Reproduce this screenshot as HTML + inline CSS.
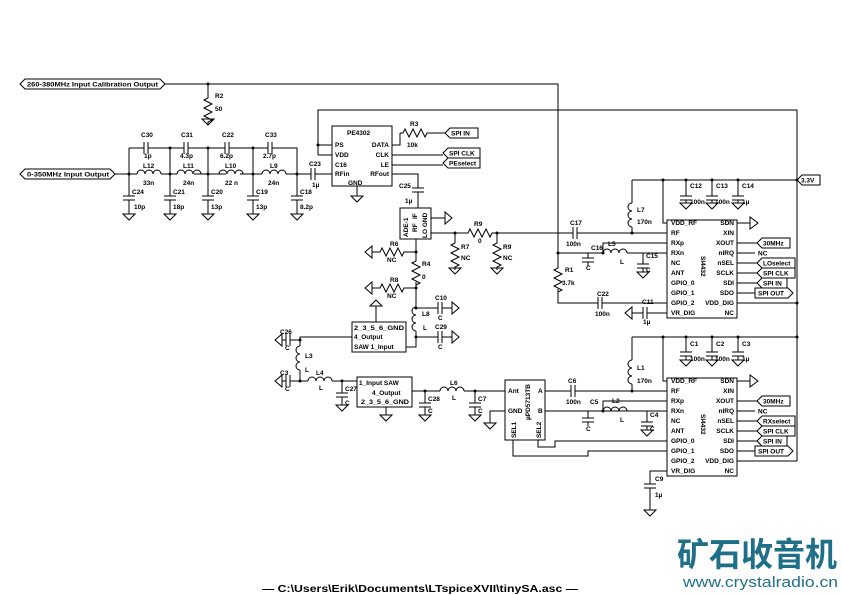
<!DOCTYPE html>
<html><head><meta charset="utf-8"><style>
html,body{margin:0;padding:0;background:#fff}
svg{display:block}
text{font-family:"Liberation Sans",sans-serif;font-weight:bold;font-size:6.5px;fill:#000}
.w{stroke:#000;stroke-width:1;fill:none}
</style></head><body>
<svg width="842" height="595" viewBox="0 0 842 595" xmlns="http://www.w3.org/2000/svg">
<defs>
<path id="g" class="w" d="M-6,0H6L0,6Z"/>
<path id="gu" class="w" d="M-6,0H6L0,-6Z"/>
<path id="gl" class="w" d="M0,-6V6L-7,0Z"/>
<path id="gr" class="w" d="M0,-6V6L7,0Z"/>
<path id="rh" class="w" d="M0,0h3l2,-4l4,8l4,-8l4,8l4,-8l4,8l2,-4h3"/>
<path id="rv" class="w" d="M0,0v3l-4,2l8,4l-8,4l8,4l-8,4l8,4l-4,2v3"/>
<path id="lh" class="w" d="M0,0a4,4 0 0 1 8,0a4,4 0 0 1 8,0a4,4 0 0 1 8,0"/>
<path id="lv" class="w" d="M0,0a4,4 0 0 0 0,8a4,4 0 0 0 0,8a4,4 0 0 0 0,8"/>
<path id="cv" class="w" d="M-6,0h12M-6,4h12"/>
<path id="ch" class="w" d="M0,-6v12M4,-6v12"/>
</defs>
<g class="w">
<path d="M165,84H558V253"/>
<path d="M208,84V95"/>
<path d="M318,155V110H797V461"/>
<path d="M115,174H137M161,174H165M194,174H202M226,174H219M240,174H262M286,174H311M315,174H332"/>
<path d="M163,174H177M201,174H202"/>
<path d="M129,148H144M148,148H184M188,148H225M229,148H268M272,148H297V174"/>
<path d="M129,148V196M170,148V196M208,148V196M253,148V196M297,174V196"/>
<path d="M129,200V214M170,200V214M208,200V214M253,200V214M297,200V214"/>
<path d="M318,145H332M318,155H332"/>
<path d="M392,145H400V133M428,133H445M392,155H443M392,165H443"/>
<path d="M392,174H418V188M418,192V208"/>
<path d="M357,186V196"/>
<rect x="400" y="208" width="31" height="31"/>
<path d="M431,218H445"/>
<path d="M431,233H465M493,233H573M577,233H667"/>
<path d="M455,233V240M497,233V240"/>
<path d="M416,239V258M416,282V307M416,331V347H406"/>
<path d="M405,252H416M377,252H372M405,288H416M377,288H372"/>
<path d="M416,308H438M442,308H452M416,337H438M442,337H452"/>
<rect x="352" y="322" width="54" height="30"/>
<path d="M376,322V306"/>
<path d="M352,337H300V346M300,370V381M300,340H290M286,340H282M300,381H290M286,381H282"/>
<path d="M300,381H308M332,381H357M342,381V393M342,397V405"/>
<rect x="357" y="377" width="55" height="30"/>
<path d="M386,407V415M412,391H440M464,391H505M425,391V403M425,407V415M475,391V403M475,407V415"/>
<rect x="505" y="380" width="40" height="60"/>
<path d="M505,411H490V423M545,391H571M575,391H667M545,411H667"/>
<path d="M513,440V456H588V451H667M538,440V447H555V441H667"/>
<rect x="667" y="220" width="70" height="98"/>
<path d="M632,180H797M663,180V223H667M632,180V203M632,227V233"/>
<path d="M686,180V196M712,180V196M738,180V196M686,200V203M712,200V203M738,200V203"/>
<path d="M603,253V243H667M558,253H603M627,253H667M588,253V258M588,262V266M643,253V264M643,268V272"/>
<path d="M558,253V265M558,289V303H598M602,303H667M667,313H647M643,313H632"/>
<path d="M737,223H750M737,243H757M737,253H755M737,263H757M737,273H757M737,283H757M737,293H755M737,303H797"/>
<rect x="667" y="378" width="70" height="98"/>
<path d="M632,337H797M663,337V381H667M632,337V360M632,384V391"/>
<path d="M686,337V352M712,337V352M738,337V352M686,356V360M712,356V360M738,356V360"/>
<path d="M603,411V401H667M627,411H667M588,411V418M588,422V426M647,411V422M647,426V430"/>
<path d="M667,471H650V484M650,488V510"/>
<path d="M737,381H750M737,401H757M737,411H755M737,421H757M737,431H757M737,441H757M737,451H755M737,461H797"/>
<rect x="332" y="126" width="60" height="60"/>
<path d="M20,84l5,-5h135l5,5l-5,5h-135z"/>
<path d="M20,174l5,-5h85l5,5l-5,5h-85z"/>
<path d="M797,180l5,-5h18v10h-18z"/>
<path d="M445,133l5,-5h28v10h-28z"/>
<path d="M443,153l5,-5h32v10h-32z"/>
<path d="M443,163l5,-5h32v10h-32z"/>
<path d="M757,243l5,-5h28v10h-28z"/><path d="M757,263l5,-5h33v10h-33z"/><path d="M757,273l5,-5h33v10h-33z"/><path d="M757,283l5,-5h25v10h-25z"/><path d="M755,293v-5h33l5,5l-5,5h-33z"/>
<path d="M757,401l5,-5h28v10h-28z"/><path d="M757,421l5,-5h33v10h-33z"/><path d="M757,431l5,-5h33v10h-33z"/><path d="M757,441l5,-5h25v10h-25z"/><path d="M755,451v-5h33l5,5l-5,5h-33z"/>
</g>
<use href="#rv" x="208" y="95"/><use href="#g" x="208" y="119"/>
<use href="#ch" x="144" y="148"/><use href="#ch" x="184" y="148"/><use href="#ch" x="225" y="148"/><use href="#ch" x="268" y="148"/>
<use href="#lh" x="137" y="174"/><use href="#lh" x="177" y="174"/><use href="#lh" x="219" y="174"/><use href="#lh" x="262" y="174"/>
<g class="w"><path d="M176,174h1M201,174h18"/></g>
<use href="#cv" x="129" y="196"/><use href="#cv" x="170" y="196"/><use href="#cv" x="208" y="196"/><use href="#cv" x="253" y="196"/><use href="#cv" x="297" y="196"/>
<use href="#g" x="129" y="214"/><use href="#g" x="170" y="214"/><use href="#g" x="208" y="214"/><use href="#g" x="253" y="214"/><use href="#g" x="297" y="214"/>
<use href="#ch" x="311" y="174"/>
<use href="#g" x="357" y="196"/>
<use href="#rh" x="400" y="133"/>
<use href="#cv" x="418" y="188"/>
<use href="#gr" x="445" y="218"/>
<use href="#rh" x="465" y="233"/>
<use href="#rv" x="455" y="240"/><use href="#g" x="455" y="268"/>
<use href="#rv" x="497" y="240"/><use href="#g" x="497" y="268"/>
<use href="#rh" x="377" y="252"/><use href="#gl" x="372" y="252"/>
<use href="#rv" x="416" y="258"/>
<use href="#rh" x="377" y="288"/><use href="#gl" x="372" y="288"/>
<use href="#lv" x="416" y="307"/>
<use href="#ch" x="438" y="308"/><use href="#gr" x="452" y="308"/>
<use href="#ch" x="438" y="337"/><use href="#gr" x="452" y="337"/>
<use href="#gu" x="376" y="306"/>
<use href="#lv" x="300" y="346"/>
<use href="#ch" x="286" y="340"/><use href="#gl" x="282" y="340"/>
<use href="#ch" x="286" y="381"/><use href="#gl" x="282" y="381"/>
<use href="#lh" x="308" y="381"/>
<use href="#cv" x="342" y="393"/><use href="#g" x="342" y="405"/>
<use href="#g" x="386" y="415"/>
<use href="#cv" x="425" y="403"/><use href="#g" x="425" y="415"/>
<use href="#lh" x="440" y="391"/>
<use href="#cv" x="475" y="403"/><use href="#g" x="475" y="415"/>
<use href="#g" x="490" y="423"/>
<use href="#lv" x="632" y="203"/>
<use href="#cv" x="686" y="196"/><use href="#cv" x="712" y="196"/><use href="#cv" x="738" y="196"/>
<use href="#g" x="686" y="203"/><use href="#g" x="712" y="203"/><use href="#g" x="738" y="203"/>
<use href="#ch" x="573" y="233"/>
<use href="#cv" x="588" y="258"/>
<use href="#lh" x="603" y="253"/>
<use href="#cv" x="643" y="264"/><use href="#g" x="643" y="272"/>
<use href="#rv" x="558" y="265"/>
<use href="#ch" x="598" y="303"/>
<use href="#ch" x="643" y="313"/><use href="#gl" x="632" y="313"/>
<path class="w" d="M750,217v12l8,-6z"/>
<use href="#lv" x="632" y="360"/>
<use href="#cv" x="686" y="352"/><use href="#cv" x="712" y="352"/><use href="#cv" x="738" y="352"/>
<use href="#g" x="686" y="360"/><use href="#g" x="712" y="360"/><use href="#g" x="738" y="360"/>
<use href="#ch" x="571" y="391"/>
<use href="#cv" x="588" y="418"/>
<use href="#lh" x="603" y="411"/>
<use href="#cv" x="647" y="422"/><use href="#g" x="647" y="430"/>
<use href="#cv" x="650" y="484"/><use href="#g" x="650" y="510"/>
<path class="w" d="M750,375v12l8,-6z"/>
<g fill="#000">
<circle cx="208" cy="84" r="1.5"/><circle cx="129" cy="174" r="1.5"/><circle cx="170" cy="174" r="1.5"/><circle cx="208" cy="174" r="1.5"/><circle cx="253" cy="174" r="1.5"/><circle cx="297" cy="174" r="1.5"/>
<circle cx="170" cy="148" r="1.5"/><circle cx="208" cy="148" r="1.5"/><circle cx="253" cy="148" r="1.5"/><circle cx="318" cy="145" r="1.5"/>
<circle cx="455" cy="233" r="1.5"/><circle cx="497" cy="233" r="1.5"/><circle cx="632" cy="233" r="1.5"/><circle cx="558" cy="253" r="1.5"/><circle cx="603" cy="253" r="1.5"/>
<circle cx="416" cy="252" r="1.5"/><circle cx="416" cy="288" r="1.5"/><circle cx="416" cy="308" r="1.5"/><circle cx="416" cy="337" r="1.5"/>
<circle cx="300" cy="340" r="1.5"/><circle cx="300" cy="381" r="1.5"/><circle cx="342" cy="381" r="1.5"/><circle cx="425" cy="391" r="1.5"/><circle cx="475" cy="391" r="1.5"/>
<circle cx="663" cy="180" r="1.5"/><circle cx="686" cy="180" r="1.5"/><circle cx="712" cy="180" r="1.5"/><circle cx="738" cy="180" r="1.5"/><circle cx="797" cy="180" r="1.5"/><circle cx="797" cy="303" r="1.5"/>
<circle cx="663" cy="337" r="1.5"/><circle cx="686" cy="337" r="1.5"/><circle cx="712" cy="337" r="1.5"/><circle cx="738" cy="337" r="1.5"/><circle cx="797" cy="337" r="1.5"/><circle cx="632" cy="391" r="1.5"/><circle cx="603" cy="411" r="1.5"/>
</g>
<text x="27" y="86.5" textLength="131" lengthAdjust="spacingAndGlyphs">260-380MHz Input Calibration Output</text>
<text x="27" y="176.5" textLength="82" lengthAdjust="spacingAndGlyphs">0-350MHz Input Output</text>
<text x="215" y="98">R2</text><text x="215" y="111">50</text>
<text x="141" y="137">C30</text><text x="144" y="158">1p</text>
<text x="181" y="137">C31</text><text x="180" y="158">4.3p</text>
<text x="222" y="137">C22</text><text x="220" y="158">6.2p</text>
<text x="265" y="137">C33</text><text x="263" y="158">2.7p</text>
<text x="143" y="168">L12</text><text x="143" y="185">33n</text>
<text x="183" y="168">L11</text><text x="183" y="185">24n</text>
<text x="225" y="168">L10</text><text x="225" y="185">22 n</text>
<text x="270" y="168">L9</text><text x="268" y="185">24n</text>
<text x="132" y="194">C24</text><text x="134" y="209">10p</text>
<text x="173" y="194">C21</text><text x="173" y="209">18p</text>
<text x="211" y="194">C20</text><text x="211" y="209">13p</text>
<text x="256" y="194">C19</text><text x="256" y="209">13p</text>
<text x="300" y="194">C18</text><text x="300" y="209">8.2p</text>
<text x="309" y="166">C23</text><text x="312" y="187">1µ</text>
<text x="347" y="135">PE4302</text>
<text x="335" y="147">PS</text><text x="335" y="157">VDD</text><text x="335" y="167">C16</text><text x="335" y="176">RFin</text><text x="348" y="185">GND</text>
<text x="389" y="147" text-anchor="end">DATA</text><text x="389" y="157" text-anchor="end">CLK</text><text x="389" y="167" text-anchor="end">LE</text><text x="389" y="176" text-anchor="end">RFout</text>
<text x="410" y="126">R3</text><text x="407" y="147">10k</text>
<text x="451" y="135.5">SPI IN</text><text x="449" y="155.5">SPI CLK</text><text x="449" y="165.5">PEselect</text>
<text x="399" y="188">C25</text><text x="405" y="203">1µ</text>
<text transform="translate(408,237) rotate(-90)">ADE-1</text>
<text transform="translate(417,232) rotate(-90)">RF</text><text transform="translate(417,219) rotate(-90)">IF</text>
<text transform="translate(427,238) rotate(-90)">LO GND</text>
<text x="474" y="226">R9</text><text x="478" y="243">0</text>
<text x="461" y="249">R7</text><text x="461" y="260">NC</text>
<text x="503" y="249">R9</text><text x="503" y="260">NC</text>
<text x="390" y="246">R6</text><text x="387" y="262">NC</text>
<text x="422" y="266">R4</text><text x="422" y="279">0</text>
<text x="390" y="282">R8</text><text x="387" y="298">NC</text>
<text x="422" y="316">L8</text><text x="423" y="330">L</text>
<text x="435" y="300">C10</text><text x="438" y="320">C</text>
<text x="435" y="329">C29</text><text x="438" y="349">C</text>
<text x="354" y="330" textLength="50" lengthAdjust="spacingAndGlyphs">2_3_5_6_GND</text>
<text x="354" y="339">4_Output</text><text x="354" y="349">SAW  1_Input</text>
<text x="280" y="334">C26</text><text x="285" y="350">C</text>
<text x="305" y="358">L3</text><text x="305" y="372">L</text>
<text x="280" y="375">C3</text><text x="285" y="391">C</text>
<text x="316" y="375">L4</text><text x="319" y="390">L</text>
<text x="345" y="391">C27</text><text x="345" y="405">C</text>
<text x="359" y="385">1_Input  SAW</text><text x="372" y="395">4_Output</text>
<text x="361" y="404" textLength="48" lengthAdjust="spacingAndGlyphs">2_3_5_6_GND</text>
<text x="428" y="401">C28</text><text x="428" y="413">C</text>
<text x="450" y="385">L6</text><text x="452" y="400">L</text>
<text x="478" y="401">C7</text><text x="478" y="413">C</text>
<text x="508" y="393">Ant</text><text x="538" y="393">A</text><text x="508" y="413">GND</text><text x="538" y="413">B</text>
<text transform="translate(530,420) rotate(-90)">µPD5713TB</text>
<text transform="translate(516,438) rotate(-90)">SEL1</text><text transform="translate(541,438) rotate(-90)">SEL2</text>
<text x="637" y="212">L7</text><text x="637" y="224">170n</text>
<text x="690" y="188">C12</text><text x="716" y="188">C13</text><text x="742" y="188">C14</text>
<text x="690" y="204">100n</text><text x="715" y="204">100n</text><text x="742" y="204">1µ</text>
<text x="570" y="225">C17</text><text x="566" y="246">100n</text>
<text x="591" y="250">C16</text><text x="586" y="270">C</text>
<text x="608" y="246">L5</text><text x="620" y="264">L</text>
<text x="646" y="258">C15</text><text x="646" y="272">C</text>
<text x="565" y="272">R1</text><text x="562" y="285">3.7k</text>
<text x="597" y="296">C22</text><text x="595" y="316">100n</text>
<text x="642" y="304">C11</text><text x="643" y="324">1µ</text>
<g>
<text x="671" y="225">VDD_RF</text><text x="671" y="235">RF</text><text x="671" y="245">RXp</text><text x="671" y="255">RXn</text><text x="671" y="265">NC</text><text x="671" y="275">ANT</text><text x="671" y="285">GPIO_0</text><text x="671" y="295">GPIO_1</text><text x="671" y="305">GPIO_2</text><text x="671" y="315">VR_DIG</text>
<text x="734" y="225" text-anchor="end">SDN</text><text x="734" y="235" text-anchor="end">XIN</text><text x="734" y="245" text-anchor="end">XOUT</text><text x="734" y="255" text-anchor="end">nIRQ</text><text x="734" y="265" text-anchor="end">nSEL</text><text x="734" y="275" text-anchor="end">SCLK</text><text x="734" y="285" text-anchor="end">SDI</text><text x="734" y="295" text-anchor="end">SDO</text><text x="734" y="305" text-anchor="end">VDD_DIG</text><text x="734" y="315" text-anchor="end">NC</text>
<text transform="translate(701,256) rotate(90)">SI4432</text>
</g>
<text x="763" y="245.5">30MHz</text><text x="758" y="255.5">NC</text><text x="763" y="265.5">LOselect</text><text x="763" y="275.5">SPI CLK</text><text x="763" y="285.5">SPI IN</text><text x="758" y="295.5">SPI OUT</text>
<text x="801" y="182.5">3.3V</text>
<text x="637" y="370">L1</text><text x="637" y="383">170n</text>
<text x="690" y="346">C1</text><text x="716" y="346">C2</text><text x="742" y="346">C3</text>
<text x="690" y="361">100n</text><text x="715" y="361">100n</text><text x="742" y="361">1µ</text>
<text x="568" y="383">C6</text><text x="566" y="404">100n</text>
<text x="590" y="404">C5</text><text x="586" y="431">C</text>
<text x="612" y="403">L2</text><text x="620" y="422">L</text>
<text x="650" y="417">C4</text><text x="650" y="431">C</text>
<text x="655" y="481">C9</text><text x="655" y="497">1µ</text>
<g>
<text x="671" y="383">VDD_RF</text><text x="671" y="393">RF</text><text x="671" y="403">RXp</text><text x="671" y="413">RXn</text><text x="671" y="423">NC</text><text x="671" y="433">ANT</text><text x="671" y="443">GPIO_0</text><text x="671" y="453">GPIO_1</text><text x="671" y="463">GPIO_2</text><text x="671" y="473">VR_DIG</text>
<text x="734" y="383" text-anchor="end">SDN</text><text x="734" y="393" text-anchor="end">XIN</text><text x="734" y="403" text-anchor="end">XOUT</text><text x="734" y="413" text-anchor="end">nIRQ</text><text x="734" y="423" text-anchor="end">nSEL</text><text x="734" y="433" text-anchor="end">SCLK</text><text x="734" y="443" text-anchor="end">SDI</text><text x="734" y="453" text-anchor="end">SDO</text><text x="734" y="463" text-anchor="end">VDD_DIG</text><text x="734" y="473" text-anchor="end">NC</text>
<text transform="translate(701,414) rotate(90)">SI4432</text>
</g>
<text x="763" y="403.5">30MHz</text><text x="758" y="413.5">NC</text><text x="763" y="423.5">RXselect</text><text x="763" y="433.5">SPI CLK</text><text x="763" y="443.5">SPI IN</text><text x="758" y="453.5">SPI OUT</text>
<text x="262" y="592" style="font-size:10px" textLength="316" lengthAdjust="spacingAndGlyphs">—  C:\Users\Erik\Documents\LTspiceXVII\tinySA.asc  —</text>
<text x="677" y="566" style="font-size:33px;fill:#1f6f88;font-family:'Liberation Sans','Noto Sans CJK SC',sans-serif" textLength="160" lengthAdjust="spacingAndGlyphs">矿石收音机</text>
<text x="683" y="587" style="font-size:15px;font-weight:normal;fill:#1f6f88" textLength="155" lengthAdjust="spacingAndGlyphs">www.crystalradio.cn</text>
</svg>
</body></html>
